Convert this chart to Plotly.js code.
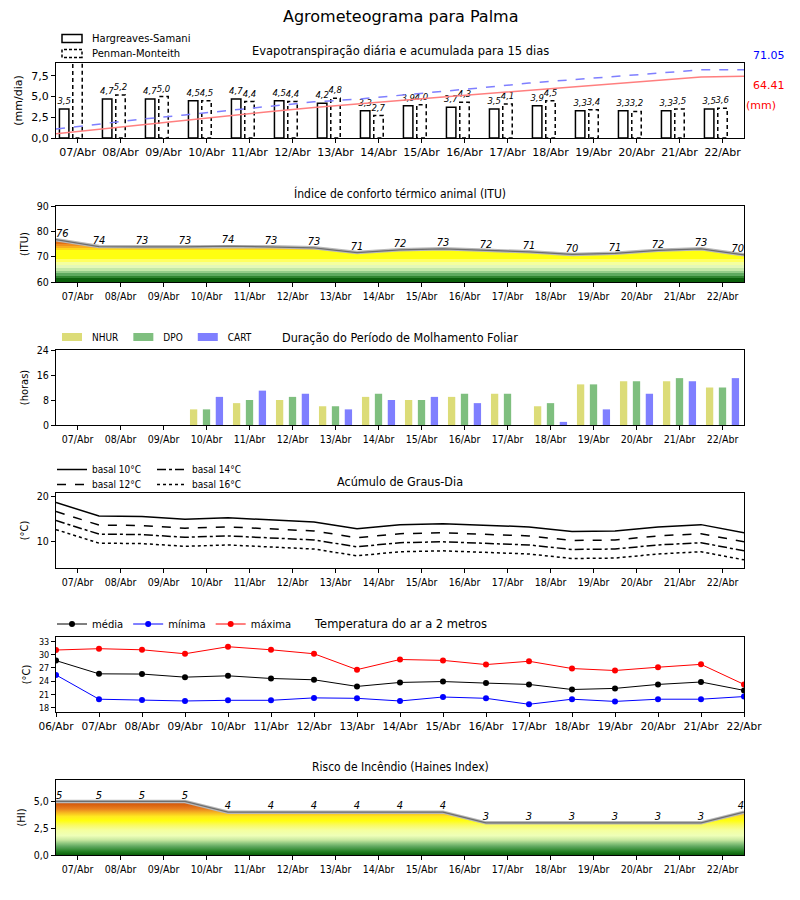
<!DOCTYPE html>
<html><head><meta charset="utf-8">
<script src="https://cdn.plot.ly/plotly-3.0.1.min.js"></script>
<style>body{margin:0;background:#fff}</style>
</head><body><div id="chart" style="width:800px;height:900px"></div>
<script>
// ---------- data ----------
const days = ['07/Abr','08/Abr','09/Abr','10/Abr','11/Abr','12/Abr','13/Abr','14/Abr','15/Abr','16/Abr','17/Abr','18/Abr','19/Abr','20/Abr','21/Abr','22/Abr'];
const tempDays = ['06/Abr','07/Abr','08/Abr','09/Abr','10/Abr','11/Abr','12/Abr','13/Abr','14/Abr','15/Abr','16/Abr','17/Abr','18/Abr','19/Abr','20/Abr','21/Abr','22/Abr'];

const etHS = [3.5,4.7,4.7,4.5,4.7,4.5,4.2,3.3,3.9,3.7,3.5,3.9,3.3,3.3,3.3,3.5];
const etPM = [9.4,5.2,5.0,4.5,4.4,4.4,4.8,2.7,4.0,4.3,4.1,4.5,3.4,3.2,3.5,3.6];
const cumHS = [4.5,9.2,13.9,18.4,23.1,27.6,31.8,35.1,39.0,42.7,46.2,50.1,53.4,56.7,60.0,63.5,64.41];
const cumPM = [9.4,14.6,19.6,24.1,28.5,32.9,37.7,40.4,44.4,48.7,52.8,57.3,60.7,63.9,67.4,71.05,71.05];
const totalHS = '64.41';
const totalPM = '71.05';

const itu = [76.7,74.0,73.9,73.9,74.2,73.9,73.5,71.6,72.7,73.1,72.5,71.9,70.9,71.3,72.5,73.1,70.7];

const nhur = [0,0,0,5,7,8,6,9,8,9,10,6,13,14,14,12];
const dpo  = [0,0,0,5,8,9,6,10,8,10,10,7,13,14,15,12];
const cart = [0,0,0,9,11,10,5,8,9,7,0,1,5,10,14,15];

const gd10 = [18.7,15.7,15.6,15.0,15.3,14.8,14.4,12.9,13.8,14.0,13.6,13.3,12.3,12.4,13.3,13.8,12.0];
const gd12 = [16.7,13.7,13.6,13.0,13.3,12.8,12.4,10.9,11.8,12.0,11.6,11.3,10.3,10.4,11.3,11.8,10.0];
const gd14 = [14.7,11.7,11.6,11.0,11.3,10.8,10.4,8.9,9.8,10.0,9.6,9.3,8.3,8.4,9.3,9.8,8.0];
const gd16 = [12.7,9.7,9.6,9.0,9.3,8.8,8.4,6.9,7.8,8.0,7.6,7.3,6.3,6.4,7.3,7.8,6.0];

const tMed = [28.65,25.65,25.6,24.9,25.2,24.6,24.3,22.8,23.7,23.9,23.55,23.25,22.1,22.35,23.25,23.8,21.9];
const tMin = [25.4,19.9,19.7,19.5,19.65,19.65,20.2,20.1,19.5,20.4,20.1,18.75,19.9,19.4,19.9,19.9,20.5];
const tMax = [31.05,31.35,31.1,30.2,31.8,31.1,30.2,26.6,28.9,28.7,27.75,28.5,26.85,26.4,27.15,27.8,23.25];

const haines = [5,5,5,5,4,4,4,4,4,4,3,3,3,3,3,3,4];

// ---------- helpers ----------
const idx16 = days.map((d, i) => i);
const idx17 = tempDays.map((d, i) => i);
const xHalf = tempDays.map((d, i) => i - 0.5);
const edgePos = arr => arr.map((v, i) => i === 0 ? 'top right' : (i === arr.length - 1 ? 'top left' : 'top center'));

const FONT = 'DejaVu Sans';
const COND = "'DejaVu Sans Condensed', 'Liberation Sans Narrow', 'DejaVu Sans'";

const ituScale = [
  [0,'#0b600b'],[0.083,'#0b600b'],[0.083,'#2f852f'],[0.139,'#2f852f'],[0.139,'#5eaa5e'],[0.194,'#5eaa5e'],
  [0.194,'#94cc88'],[0.25,'#94cc88'],[0.25,'#c4e8a8'],[0.306,'#c4e8a8'],[0.306,'#e4f8b8'],[0.378,'#e4f8b8'],
  [0.378,'#f4ffa0'],[0.444,'#f4ffa0'],[0.444,'#ffff60'],[0.5,'#ffff60'],[0.5,'#ffff10'],[0.694,'#ffff10'],
  [0.694,'#ffd818'],[0.739,'#ffd818'],[0.739,'#f8b020'],[0.789,'#f8b020'],[0.789,'#f09020'],[0.844,'#f09020'],
  [0.844,'#e47014'],[0.9,'#e47014'],[0.9,'#d4500a'],[1,'#d4500a']
];
const hainesScale = [
  [0,'#0a5e0a'],[0.06,'#207f20'],[0.16,'#60a860'],[0.22,'#90c880'],[0.28,'#c8e8a0'],[0.36,'#eeffb8'],
  [0.46,'#f4ffa0'],[0.56,'#fafa60'],[0.64,'#ffff10'],[0.72,'#ffe820'],[0.8,'#f5b020'],[0.86,'#e88020'],
  [0.94,'#d8600f'],[1,'#d05010']
];

const traces = [
  // Panel 1 - ET
  {type:'bar', name:'Hargreaves-Samani', x:idx16, y:etHS, xaxis:'x', yaxis:'y', width:0.22, offset:-0.42,
   marker:{color:'#ffffff', line:{color:'#000', width:1.5}},
   texttemplate:'%{y:.1f}', textposition:'outside', constraintext:'none', cliponaxis:true,
   textfont:{size:8.5, style:'italic', color:'#000', family:FONT}, legend:'legend'},
  {type:'bar', name:'Penman-Monteith', x:idx16, y:etPM, xaxis:'x', yaxis:'y', width:0.22, offset:-0.11,
   marker:{color:'#ffffff', line:{color:'#000', width:1.5}},
   texttemplate:'%{y:.1f}', textposition:'outside', constraintext:'none', cliponaxis:true,
   textfont:{size:8.5, style:'italic', color:'#000', family:FONT}, legend:'legend'},
  {type:'scatter', mode:'lines', x:xHalf, y:cumHS, xaxis:'x', yaxis:'y7', showlegend:false,
   line:{color:'#ff7f7f', width:1.5}},
  {type:'scatter', mode:'lines', x:xHalf, y:cumPM, xaxis:'x', yaxis:'y7', showlegend:false,
   line:{color:'#7f7fff', width:1.5, dash:'dash'}},

  // Panel 2 - ITU
  {type:'scatter', mode:'lines', x:xHalf, y:itu, xaxis:'x2', yaxis:'y2', showlegend:false,
   fill:'tozeroy', fillgradient:{type:'vertical', start:60, stop:78, colorscale:ituScale},
   line:{color:'#b8b8b8', width:3.5}},
  {type:'scatter', mode:'lines+text', x:xHalf, y:itu, xaxis:'x2', yaxis:'y2', showlegend:false,
   line:{color:'#6e6e6e', width:1.3}, text:itu.map(v => String(Math.floor(v))),
   textposition:edgePos(itu), cliponaxis:false,
   textfont:{size:11, style:'italic', color:'#000', family:COND}},

  // Panel 3 - Molhamento
  {type:'bar', name:'NHUR', x:idx16, y:nhur, xaxis:'x3', yaxis:'y3', width:0.17, offset:-0.385,
   marker:{color:'#dcdc78', line:{width:0}}, legend:'legend2'},
  {type:'bar', name:'DPO', x:idx16, y:dpo, xaxis:'x3', yaxis:'y3', width:0.17, offset:-0.085,
   marker:{color:'#7fbf7f', line:{width:0}}, legend:'legend2'},
  {type:'bar', name:'CART', x:idx16, y:cart, xaxis:'x3', yaxis:'y3', width:0.17, offset:0.215,
   marker:{color:'#7f7fff', line:{width:0}}, legend:'legend2'},

  // Panel 4 - Graus-dia
  {type:'scatter', mode:'lines', name:'basal 10°C', x:xHalf, y:gd10, xaxis:'x4', yaxis:'y4',
   line:{color:'#000', width:1.5}, legend:'legend3'},
  {type:'scatter', mode:'lines', name:'basal 12°C', x:xHalf, y:gd12, xaxis:'x4', yaxis:'y4',
   line:{color:'#000', width:1.5, dash:'dash'}, legend:'legend3'},
  {type:'scatter', mode:'lines', name:'basal 14°C', x:xHalf, y:gd14, xaxis:'x4', yaxis:'y4',
   line:{color:'#000', width:1.5, dash:'dashdot'}, legend:'legend4'},
  {type:'scatter', mode:'lines', name:'basal 16°C', x:xHalf, y:gd16, xaxis:'x4', yaxis:'y4',
   line:{color:'#000', width:1.5, dash:'dot'}, legend:'legend4'},

  // Panel 5 - Temperatura
  {type:'scatter', mode:'lines+markers', name:'média', x:idx17, y:tMed, xaxis:'x5', yaxis:'y5',
   line:{color:'#000', width:1}, marker:{color:'#000', size:6}, legend:'legend5'},
  {type:'scatter', mode:'lines+markers', name:'mínima', x:idx17, y:tMin, xaxis:'x5', yaxis:'y5',
   line:{color:'#0000ff', width:1}, marker:{color:'#0000ff', size:6}, legend:'legend5'},
  {type:'scatter', mode:'lines+markers', name:'máxima', x:idx17, y:tMax, xaxis:'x5', yaxis:'y5',
   line:{color:'#ff0000', width:1}, marker:{color:'#ff0000', size:6}, legend:'legend5'},

  // Panel 6 - Haines
  {type:'scatter', mode:'lines', x:xHalf, y:haines, xaxis:'x6', yaxis:'y6', showlegend:false,
   fill:'tozeroy', fillgradient:{type:'vertical', start:0, stop:5, colorscale:hainesScale},
   line:{color:'#b8b8b8', width:3.5}},
  {type:'scatter', mode:'lines+text', x:xHalf, y:haines, xaxis:'x6', yaxis:'y6', showlegend:false,
   line:{color:'#6e6e6e', width:1.3}, text:haines.map(v => String(v)),
   textposition:edgePos(haines), cliponaxis:false,
   textfont:{size:11, style:'italic', color:'#000', family:COND}}
];

const axBase = {showline:true, mirror:true, linecolor:'#000', linewidth:1, ticks:'outside', ticklen:4,
  tickcolor:'#000', showgrid:false, zeroline:false, fixedrange:true};
const xDays = (anchor, fam, size) => Object.assign({}, axBase, {anchor:anchor, domain:[0,1], range:[-0.5,15.5],
  tickvals:idx16, ticktext:days, tickfont:{family:fam, size:size, color:'#000'}});
const yAx = (dom, anchor, extra, fam, size, title) => Object.assign({}, axBase, {anchor:anchor, domain:dom,
  tickfont:{family:fam, size:size, color:'#000'},
  title:{text:title, font:{family:fam, size:11, color:'#000'}, standoff:6}}, extra);

const L = 56, PW = 688;
const yd = (top, bot) => [1 - bot/900, 1 - top/900];
const py = p => 1 - p/900;
const px = p => (p - L) / PW;

const titleAnn = (text, ypx, fam, size) => ({text:text, xref:'paper', yref:'paper', x:0.5, y:py(ypx),
  xanchor:'center', yanchor:'middle', showarrow:false, font:{family:fam, size:size, color:'#000'}});

const legBase = {xanchor:'left', bgcolor:'rgba(255,255,255,0)', borderwidth:0};

const layout = {
  width:800, height:900, paper_bgcolor:'#fff', plot_bgcolor:'#fff',
  margin:{l:L, r:800-L-PW, t:0, b:0}, separators:',.', barmode:'overlay',
  font:{family:FONT, color:'#000', size:11},
  xaxis: xDays('y', FONT, 11),
  yaxis: yAx(yd(63,138), 'x', {range:[0,9.05], tickvals:[0,2.5,5,7.5], tickformat:'.1f'}, FONT, 11, '(mm/dia)'),
  yaxis7: {overlaying:'y', anchor:'x', range:[0,78.2], visible:false, fixedrange:true},
  xaxis2: xDays('y2', COND, 10.5),
  yaxis2: yAx(yd(206,282), 'x2', {range:[60,90], tickvals:[60,70,80,90]}, COND, 10.5, '(ITU)'),
  xaxis3: xDays('y3', COND, 10.5),
  yaxis3: yAx(yd(350,425), 'x3', {range:[0,24], tickvals:[0,8,16,24]}, COND, 10.5, '(horas)'),
  xaxis4: xDays('y4', COND, 10.5),
  yaxis4: yAx(yd(493,568), 'x4', {range:[4.2,20.8], tickvals:[10,20]}, COND, 10.5, '(°C)'),
  xaxis5: Object.assign({}, axBase, {anchor:'y5', domain:[0,1], range:[0,16], tickvals:idx17, ticktext:tempDays,
    tickfont:{family:FONT, size:10.5, color:'#000'}}),
  yaxis5: yAx(yd(637,712), 'x5', {range:[17,34], tickvals:[18,21,24,27,30,33]}, COND, 9, '(°C)'),
  xaxis6: xDays('y6', COND, 10.5),
  yaxis6: yAx(yd(780,855), 'x6', {range:[0,7], tickvals:[0,2.5,5], tickformat:'.1f'}, COND, 10.5, '(HI)'),

  legend: Object.assign({}, legBase, {x:px(52), y:py(24), yanchor:'top', font:{size:10, family:FONT}, tracegroupgap:0}),
  legend2: Object.assign({}, legBase, {orientation:'h', x:px(52), y:py(337), yanchor:'middle', font:{size:10, family:COND}}),
  legend3: Object.assign({}, legBase, {x:px(52), y:py(455), yanchor:'top', font:{size:10, family:COND}}),
  legend4: Object.assign({}, legBase, {x:px(152), y:py(455), yanchor:'top', font:{size:10, family:COND}}),
  legend5: Object.assign({}, legBase, {orientation:'h', x:px(52), y:py(624), yanchor:'middle', font:{size:10, family:FONT}}),

  annotations: [
    titleAnn('Agrometeograma para Palma', 17, FONT, 16),
    titleAnn('Evapotranspiração diária e acumulada para 15 dias', 51, FONT, 11.5),
    titleAnn('Índice de conforto térmico animal (ITU)', 194, COND, 12),
    titleAnn('Duração do Período de Molhamento Foliar', 337, COND, 12.5),
    titleAnn('Acúmulo de Graus-Dia', 481, COND, 12.5),
    titleAnn('Temperatura do ar a 2 metros', 624, FONT, 11.5),
    titleAnn('Risco de Incêndio (Haines Index)', 767, COND, 12),
    {text:totalPM, xref:'paper', yref:'paper', x:px(769), y:py(56), xanchor:'center', yanchor:'middle', showarrow:false, font:{size:11, color:'#0000ff'}},
    {text:totalHS, xref:'paper', yref:'paper', x:px(769), y:py(85), xanchor:'center', yanchor:'middle', showarrow:false, font:{size:11, color:'#ff0000'}},
    {text:'(mm)', xref:'paper', yref:'paper', x:px(761), y:py(105), xanchor:'center', yanchor:'middle', showarrow:false, font:{size:11, color:'#ff0000'}}
  ]
};

Plotly.newPlot('chart', traces, layout, {staticPlot:true, displayModeBar:false}).then(gd => {
  const traceOf = d => {
    if (!d) return null;
    if (d[0] && d[0].trace) return d[0].trace;
    if (d[0] && d[0][0] && d[0][0].trace) return d[0][0].trace;
    return null;
  };
  gd.querySelectorAll('g.trace.bars').forEach(g => {
    const tr = traceOf(g.__data__);
    if (tr && tr.name === 'Penman-Monteith') {
      g.querySelectorAll('path').forEach(p => { p.style.strokeDasharray = '4,3'; });
    }
  });
  gd.querySelectorAll('g.traces').forEach(g => {
    const tr = traceOf(g.__data__);
    if (!tr || tr.type !== 'bar') return;
    g.querySelectorAll('.legendpoints path').forEach(p => {
      p.setAttribute('d', 'M10,4H-10V-4H10Z');
      if (tr.name === 'Penman-Monteith') p.style.strokeDasharray = '3,2';
    });
  });
  // tighten vertical legend rows (matplotlib-like spacing)
  const tighten = new Set(['Penman-Monteith', 'basal 12°C', 'basal 16°C']);
  gd.querySelectorAll('g.traces').forEach(g => {
    const tr = traceOf(g.__data__);
    if (!tr || !tighten.has(tr.name)) return;
    const t = g.getAttribute('transform') || '';
    const m = t.match(/translate\(\s*([-\d.e]+)[ ,]+([-\d.e]+)\s*\)/);
    if (m) g.setAttribute('transform', 'translate(' + m[1] + ',' + (parseFloat(m[2]) - 4) + ')');
  });
});
</script>
</body></html>
